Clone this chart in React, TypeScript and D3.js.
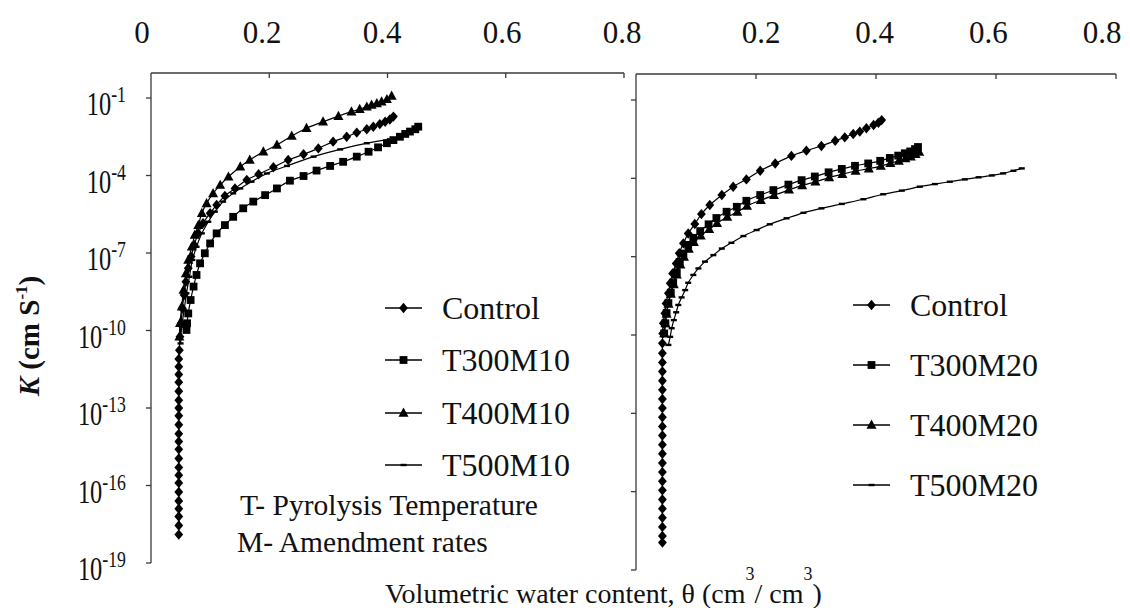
import React from 'react';
import * as d3 from 'd3';

type Pt = [number, number]; // [theta, log10 K]

// ---------- Left panel (M10) ----------
const leftControl: Pt[] = [
  [0.410, -1.72], [0.404, -1.83], [0.396, -1.92], [0.387, -2.01], [0.376, -2.11], [0.365, -2.21],
  [0.348, -2.34], [0.331, -2.50], [0.308, -2.69], [0.283, -2.95], [0.258, -3.18], [0.232, -3.40],
  [0.207, -3.68], [0.182, -3.95], [0.162, -4.17], [0.142, -4.50], [0.125, -4.79], [0.111, -5.14],
  [0.100, -5.46], [0.088, -5.85], [0.080, -6.24], [0.073, -6.69], [0.068, -7.14], [0.063, -7.59],
  [0.059, -8.11], [0.056, -8.63], [0.053, -9.14], [0.051, -9.72], [0.049, -10.24], [0.048, -10.76],
  [0.047, -11.10], [0.047, -11.40], [0.047, -11.70], [0.047, -12.00], [0.047, -12.35], [0.047, -12.70],
  [0.047, -13.00], [0.047, -13.30], [0.047, -13.65], [0.047, -14.00], [0.047, -14.30], [0.047, -14.60],
  [0.047, -14.95], [0.047, -15.30], [0.047, -15.60], [0.047, -15.90], [0.047, -16.25], [0.047, -16.60],
  [0.047, -16.90], [0.047, -17.20], [0.047, -17.55], [0.047, -17.90],
];
const leftT300: Pt[] = [
  [0.452, -2.11], [0.447, -2.21], [0.438, -2.30], [0.430, -2.39], [0.421, -2.50], [0.410, -2.63],
  [0.399, -2.75], [0.384, -2.91], [0.368, -3.08], [0.348, -3.27], [0.325, -3.47], [0.303, -3.63],
  [0.280, -3.81], [0.258, -4.02], [0.235, -4.20], [0.213, -4.50], [0.193, -4.76], [0.173, -5.01],
  [0.156, -5.27], [0.139, -5.60], [0.125, -5.92], [0.111, -6.24], [0.100, -6.63], [0.091, -7.01],
  [0.083, -7.40], [0.077, -7.85], [0.072, -8.30], [0.067, -8.82], [0.063, -9.34], [0.061, -9.72],
  [0.060, -9.98],
];
const leftT400: Pt[] = [
  [0.407, -0.92], [0.399, -1.05], [0.390, -1.14], [0.382, -1.21], [0.373, -1.27], [0.365, -1.34],
  [0.353, -1.43], [0.339, -1.53], [0.317, -1.70], [0.291, -1.92], [0.263, -2.17], [0.238, -2.47],
  [0.213, -2.82], [0.190, -3.08], [0.167, -3.40], [0.151, -3.66], [0.131, -4.05], [0.117, -4.37],
  [0.105, -4.69], [0.094, -5.08], [0.086, -5.46], [0.080, -5.92], [0.074, -6.30], [0.069, -6.76],
  [0.063, -7.27], [0.059, -7.79], [0.055, -8.43], [0.052, -9.08], [0.049, -9.72], [0.048, -10.24],
];
const leftT500: Pt[] = [
  [0.404, -2.60], [0.365, -2.75], [0.320, -2.99], [0.275, -3.27], [0.230, -3.63], [0.196, -3.92],
  [0.170, -4.24], [0.151, -4.50], [0.139, -4.69], [0.122, -5.01], [0.108, -5.40], [0.097, -5.79],
  [0.086, -6.24], [0.077, -6.76], [0.070, -7.27], [0.065, -7.92], [0.060, -8.56], [0.056, -9.21],
  [0.052, -9.85], [0.050, -10.50],
];

// ---------- Right panel (M20) ----------
const rightControl: Pt[] = [
  [0.4095, -1.77], [0.404, -1.87], [0.396, -1.96], [0.384, -2.08], [0.373, -2.21], [0.362, -2.30],
  [0.348, -2.43], [0.332, -2.56], [0.309, -2.76], [0.284, -2.94], [0.259, -3.14], [0.232, -3.43],
  [0.207, -3.71], [0.184, -4.04], [0.162, -4.32], [0.143, -4.64], [0.123, -5.02], [0.109, -5.37],
  [0.098, -5.75], [0.087, -6.11], [0.079, -6.49], [0.072, -6.87], [0.067, -7.26], [0.061, -7.64],
  [0.057, -8.02], [0.054, -8.40], [0.050, -8.79], [0.048, -9.17], [0.0455, -9.55], [0.0445, -9.94],
  [0.044, -10.32], [0.044, -10.70], [0.044, -11.05], [0.044, -11.40], [0.044, -11.75], [0.044, -12.10],
  [0.044, -12.45], [0.044, -12.80], [0.044, -13.15], [0.044, -13.50], [0.044, -13.85], [0.044, -14.20],
  [0.044, -14.55], [0.044, -14.90], [0.044, -15.25], [0.044, -15.60], [0.044, -15.95], [0.044, -16.30],
  [0.044, -16.65], [0.044, -17.00], [0.044, -17.35], [0.044, -17.70], [0.044, -17.95],
];
const rightT300: Pt[] = [
  [0.470, -2.80], [0.465, -2.88], [0.457, -2.97], [0.448, -3.04], [0.437, -3.13], [0.423, -3.22],
  [0.407, -3.33], [0.387, -3.43], [0.365, -3.52], [0.343, -3.64], [0.321, -3.77], [0.298, -3.93],
  [0.276, -4.07], [0.254, -4.24], [0.229, -4.45], [0.207, -4.64], [0.184, -4.86], [0.168, -5.09],
  [0.151, -5.28], [0.134, -5.52], [0.121, -5.76], [0.107, -6.02], [0.0955, -6.28], [0.087, -6.55],
  [0.079, -6.88], [0.073, -7.20], [0.068, -7.60], [0.062, -7.99], [0.058, -8.38], [0.054, -8.78],
  [0.051, -9.16], [0.049, -9.55], [0.047, -9.94],
];
const rightT400: Pt[] = [
  [0.472, -2.99], [0.466, -3.08], [0.458, -3.17], [0.449, -3.24], [0.438, -3.33], [0.424, -3.42],
  [0.408, -3.53], [0.388, -3.63], [0.366, -3.72], [0.344, -3.84], [0.322, -3.97], [0.299, -4.13],
  [0.277, -4.27], [0.255, -4.44], [0.230, -4.65], [0.208, -4.84], [0.185, -5.06], [0.169, -5.29],
  [0.152, -5.48], [0.135, -5.72], [0.122, -5.95], [0.108, -6.20], [0.0965, -6.45], [0.088, -6.70],
  [0.080, -7.01], [0.074, -7.31], [0.068, -7.69], [0.063, -8.06], [0.058, -8.43], [0.054, -8.81],
  [0.051, -9.19], [0.049, -9.56], [0.047, -9.94],
];
const rightT500: Pt[] = [
  [0.643, -3.62], [0.629, -3.71], [0.612, -3.81], [0.593, -3.89], [0.571, -3.96], [0.548, -4.04],
  [0.523, -4.13], [0.498, -4.22], [0.473, -4.32], [0.443, -4.47], [0.412, -4.61], [0.379, -4.80],
  [0.343, -4.98], [0.309, -5.15], [0.279, -5.32], [0.251, -5.53], [0.223, -5.76], [0.201, -5.98],
  [0.179, -6.21], [0.159, -6.47], [0.143, -6.69], [0.129, -6.94], [0.115, -7.19], [0.104, -7.45],
  [0.0955, -7.70], [0.087, -8.00], [0.082, -8.28], [0.076, -8.56], [0.0705, -8.85], [0.067, -9.13],
  [0.063, -9.43], [0.0595, -9.74], [0.057, -10.07], [0.054, -10.38],
];

const xTicks = [0, 0.2, 0.4, 0.6, 0.8];
const leftXLabels = ['0', '0.2', '0.4', '0.6', '0.8'];
const rightXLabels = ['0.2', '0.4', '0.6', '0.8'];
const yExps = [-1, -4, -7, -10, -13, -16, -19];
const leftLegend = ['Control', 'T300M10', 'T400M10', 'T500M10'];
const rightLegend = ['Control', 'T300M20', 'T400M20', 'T500M20'];
const markerKinds = ['diamond', 'square', 'triangle', 'dash'];
const noteLines = ['T- Pyrolysis Temperature', 'M- Amendment rates'];

const FF = 'Liberation Serif';

function Marker({ kind, x, y }: { kind: string; x: number; y: number }) {
  if (kind === 'diamond') return <path d={`M${x},${y - 5.2}L${x + 4.4},${y}L${x},${y + 5.2}L${x - 4.4},${y}Z`} fill="#000" />;
  if (kind === 'square') return <rect x={x - 3.9} y={y - 3.9} width={7.8} height={7.8} fill="#000" />;
  if (kind === 'triangle') return <path d={`M${x},${y - 5.4}L${x + 5},${y + 3.8}L${x - 5},${y + 3.8}Z`} fill="#000" />;
  return <rect x={x - 3} y={y - 1.2} width={6} height={2.4} fill="#000" />;
}

function Panel({ series, xRange, yRange, topY, labels, labelScale, showYLabels }: any) {
  const x = d3.scaleLinear().domain([0, 0.8]).range(xRange);
  const y = d3.scaleLog().domain([1e-19, 1e-1]).range(yRange);
  const line = d3.line<Pt>().x(d => x(d[0])).y(d => y(Math.pow(10, d[1]))).curve(d3.curveCatmullRom.alpha(0.5));
  const x0 = xRange[0];
  const axisColor = '#3a3a3a';
  return (
    <g>
      <line x1={x0} x2={xRange[1]} y1={topY} y2={topY} stroke={axisColor} strokeWidth={1.3} />
      {xTicks.slice(1).map(t => (
        <line key={t} x1={x(t)} x2={x(t)} y1={topY} y2={topY + 5} stroke={axisColor} strokeWidth={1.3} />
      ))}
      <line x1={x0} x2={x0} y1={topY} y2={yRange[0]} stroke={axisColor} strokeWidth={1.3} />
      {yExps.map(e => (
        <line key={e} x1={x0 - 5} x2={x0} y1={y(Math.pow(10, e))} y2={y(Math.pow(10, e))} stroke={axisColor} strokeWidth={1.3} />
      ))}
      {showYLabels && yExps.map(e => (
        <g key={'l' + e} transform={`translate(126,${y(Math.pow(10, e)) + 17}) scale(0.74,1)`}>
          <text textAnchor="end" fontSize={33} fill="#111">
            10<tspan fontSize={24} dy={-13}>{String(e)}</tspan>
          </text>
        </g>
      ))}
      {labels.map((lab: string) => (
        <text key={lab} x={labelScale(+lab)} y={43} textAnchor="middle" fontSize={31} fill="#111">{lab}</text>
      ))}
      {series.map((s: Pt[], i: number) => (
        <g key={i}>
          <path d={line(s) || ''} fill="none" stroke="#000" strokeWidth={1.2} />
          {s.map((p, j) => (
            <Marker key={j} kind={markerKinds[i]} x={x(p[0])} y={y(Math.pow(10, p[1]))} />
          ))}
        </g>
      ))}
    </g>
  );
}

function Legend({ names, lineX, textX, rows }: { names: string[]; lineX: [number, number]; textX: number; rows: number[] }) {
  return (
    <g>
      {names.map((n, i) => (
        <g key={n}>
          <line x1={lineX[0]} x2={lineX[1]} y1={rows[i]} y2={rows[i]} stroke="#000" strokeWidth={1.3} />
          <Marker kind={markerKinds[i]} x={(lineX[0] + lineX[1]) / 2} y={rows[i]} />
          <text x={textX} y={rows[i] + 11} fontSize={32} fill="#111">{n}</text>
        </g>
      ))}
    </g>
  );
}

export default function App() {
  const leftLabelScale = d3.scaleLinear().domain([0, 0.8]).range([142, 622]);
  const rightLabelScale = d3.scaleLinear().domain([0.2, 0.8]).range([761, 1102]);
  return (
    <svg width={1130} height={608} fontFamily={FF} style={{ position: 'absolute', left: 0, top: 0, fontFamily: FF }}>
      <rect x={0} y={0} width={1130} height={608} fill="#fff" />
      <Panel
        series={[leftControl, leftT300, leftT400, leftT500]}
        xRange={[151, 624]} yRange={[563, 98]} topY={73}
        labels={leftXLabels} labelScale={leftLabelScale} showYLabels={true}
      />
      <Panel
        series={[rightControl, rightT300, rightT400, rightT500]}
        xRange={[636, 1116]} yRange={[570, 100]} topY={74}
        labels={rightXLabels} labelScale={rightLabelScale} showYLabels={false}
      />
      <Legend names={leftLegend} lineX={[385, 422]} textX={442} rows={[308, 360, 413, 465]} />
      <Legend names={rightLegend} lineX={[853, 890]} textX={910} rows={[305, 365, 425, 485]} />
      {noteLines.map((t, i) => (
        <text key={t} x={i === 0 ? 240 : 237} y={i === 0 ? 515 : 552} fontSize={29.5} fill="#111">{t}</text>
      ))}
      <g transform="translate(39,336) rotate(-90)">
        <text textAnchor="middle" fontSize={29} fontWeight="bold" fill="#111">
          <tspan fontStyle="italic">K</tspan> (cm S<tspan fontSize={17} dy={-12}>-1</tspan><tspan dy={12}>)</tspan>
        </text>
      </g>
      <text x={385} y={603} fontSize={28} fill="#111">
        Volumetric water content, θ (cm<tspan fontSize={18} dy={-23}>3</tspan><tspan dy={23}>/ cm</tspan><tspan fontSize={18} dy={-23}>3</tspan><tspan dy={23}>)</tspan>
      </text>
    </svg>
  );
}
